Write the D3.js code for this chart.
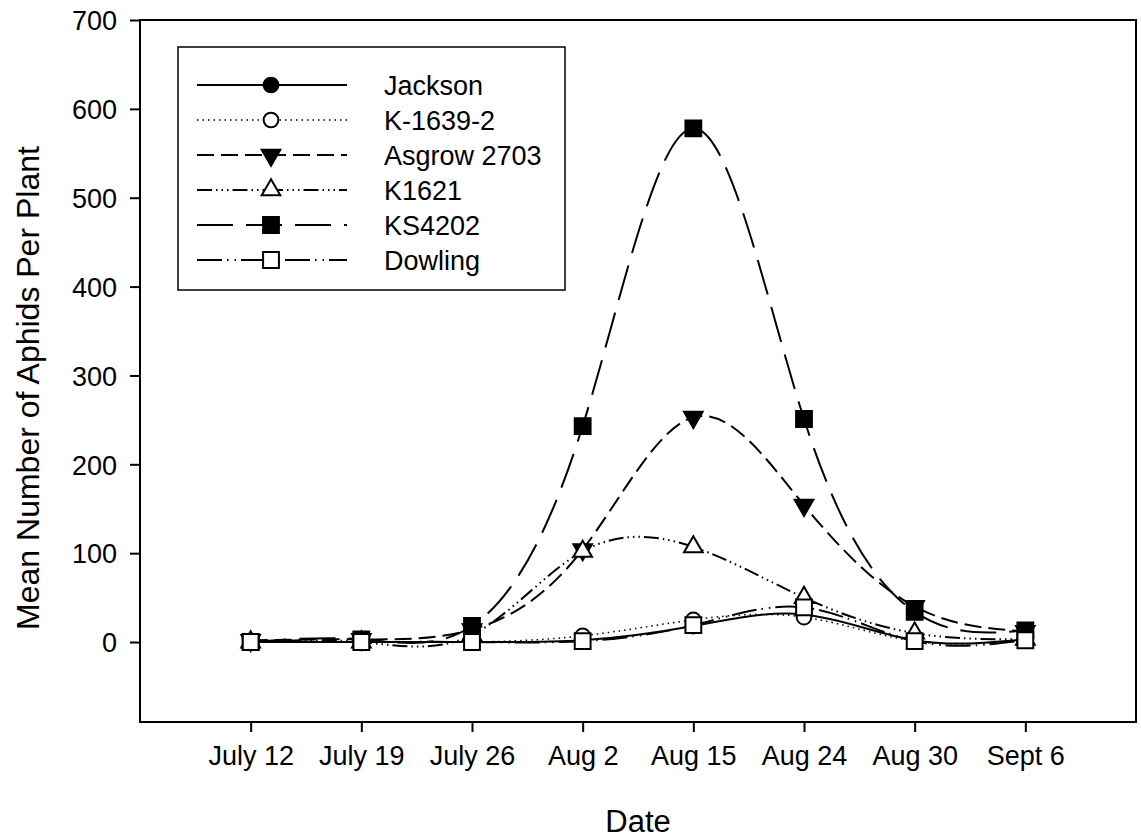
<!DOCTYPE html>
<html>
<head>
<meta charset="utf-8">
<script src="https://cdn.jsdelivr.net/npm/d3@7/dist/d3.min.js"></script>
<style>
  html, body { margin: 0; padding: 0; background: #fff; }
  svg { display: block; font-family: "Liberation Sans", Arial, sans-serif; }
</style>
</head>
<body>
<svg id="chart" width="1141" height="840"></svg>
<script>
// Sampling dates (categories)
const dates = ["July 12", "July 19", "July 26", "Aug 2", "Aug 15", "Aug 24", "Aug 30", "Sept 6"];
const yTicks = [0, 100, 200, 300, 400, 500, 600, 700];

// Mean aphids per plant for each soybean line
const jackson  = [0, 0, 0, 2, 18, 31, 2, 3];
const k16392   = [0, 0, 0, 7, 25, 28, 1, 2];
const asgrow   = [2, 3, 14, 104, 253, 154, 40, 12];
const k1621    = [0, 0, 8, 102, 107, 50, 10, 3];
const ks4202   = [0, 3, 18, 243, 578, 251, 34, 13];
const dowling  = [0, 0, 0, 1, 19, 39, 1, 2];

const seriesNames = ["Jackson", "K-1639-2", "Asgrow 2703", "K1621", "KS4202", "Dowling"];
const seriesValues = [jackson, k16392, asgrow, k1621, ks4202, dowling];

// Styling for each series: line dash, marker shape, marker fill
const styles = [
  { dash: null,                    width: 2,   symbol: d3.symbolCircle,   size: 170, rot: 0,   fill: "#000" },
  { dash: "1.5,4",                 width: 1.5, symbol: d3.symbolCircle,   size: 170, rot: 0,   fill: "#fff" },
  { dash: "17,7",                  width: 2,   symbol: d3.symbolTriangle, size: 150, rot: 180, fill: "#000" },
  { dash: "15,4,1.5,4,1.5,4,1.5,4", width: 2,  symbol: d3.symbolTriangle, size: 150, rot: 0,   fill: "#fff" },
  { dash: "36,13",                 width: 2,   symbol: d3.symbolSquare,   size: 250, rot: 0,   fill: "#000" },
  { dash: "25,5,1.5,6,1.5,5",      width: 2,   symbol: d3.symbolSquare,   size: 250, rot: 0,   fill: "#fff" }
];

const svg = d3.select("#chart");
const plotL = 140, plotR = 1136, plotT = 20, plotB = 722;

const x = d3.scaleLinear().domain([-1, dates.length]).range([plotL, plotR]);
const y = d3.scaleLinear().domain([-90, 700]).range([plotB, plotT]);

// Axes
const xAxis = d3.axisBottom(x)
  .tickValues(d3.range(dates.length))
  .tickFormat(i => dates[i])
  .tickSize(10)
  .tickPadding(14);
const yAxis = d3.axisLeft(y)
  .tickValues(yTicks)
  .tickSize(10)
  .tickPadding(13);

const gx = svg.append("g").attr("transform", `translate(0,${plotB})`).call(xAxis);
const gy = svg.append("g").attr("transform", `translate(${plotL},0)`).call(yAxis);
[gx, gy].forEach(g => {
  g.select(".domain").remove();
  g.selectAll(".tick line").attr("stroke", "#000").attr("stroke-width", 2);
  g.selectAll(".tick text").attr("fill", "#000").attr("font-size", 27)
    .attr("font-family", "Liberation Sans, Arial, sans-serif");
});
gy.selectAll(".tick text").attr("dy", "0.36em");

// Plot frame
svg.append("rect")
  .attr("x", plotL).attr("y", plotT)
  .attr("width", plotR - plotL).attr("height", plotB - plotT)
  .attr("fill", "none").attr("stroke", "#000").attr("stroke-width", 2);

// Axis titles
svg.append("text")
  .attr("x", (plotL + plotR) / 2).attr("y", 832)
  .attr("text-anchor", "middle").attr("font-size", 31)
  .text("Date");
svg.append("text")
  .attr("transform", `translate(39,${(plotT + plotB) / 2 + 17}) rotate(-90)`)
  .attr("text-anchor", "middle").attr("font-size", 32)
  .text("Mean Number of Aphids Per Plant");

// Smoothed series lines
const line = d3.line()
  .x((d, i) => x(i))
  .y(d => y(d))
  .curve(d3.curveNatural);

const plot = svg.append("g");
seriesValues.forEach((vals, k) => {
  const s = styles[k];
  plot.append("path")
    .datum(vals)
    .attr("d", line)
    .attr("fill", "none")
    .attr("stroke", "#000")
    .attr("stroke-width", s.width)
    .attr("stroke-dasharray", s.dash);
});

// Markers, drawn in series order so later series sit on top
seriesValues.forEach((vals, k) => {
  const s = styles[k];
  const sym = d3.symbol().type(s.symbol).size(s.size);
  plot.append("g").selectAll("path")
    .data(vals)
    .join("path")
    .attr("d", sym)
    .attr("transform", (d, i) => `translate(${x(i)},${y(d)}) rotate(${s.rot})`)
    .attr("fill", s.fill)
    .attr("stroke", "#000")
    .attr("stroke-width", 2);
});

// Legend
const lg = svg.append("g");
lg.append("rect")
  .attr("x", 178).attr("y", 47).attr("width", 387).attr("height", 243)
  .attr("fill", "#fff").attr("stroke", "#000").attr("stroke-width", 1.5);

seriesNames.forEach((name, k) => {
  const s = styles[k];
  const cy = 85 + k * 35;
  lg.append("line")
    .attr("x1", 197).attr("x2", 347).attr("y1", cy).attr("y2", cy)
    .attr("stroke", "#000").attr("stroke-width", s.width)
    .attr("stroke-dasharray", s.dash);
  lg.append("path")
    .attr("d", d3.symbol().type(s.symbol).size(s.size))
    .attr("transform", `translate(271,${cy}) rotate(${s.rot})`)
    .attr("fill", s.fill).attr("stroke", "#000").attr("stroke-width", 2);
  lg.append("text")
    .attr("x", 384).attr("y", cy).attr("dy", "0.36em")
    .attr("font-size", 27)
    .text(name);
});
</script>
</body>
</html>
